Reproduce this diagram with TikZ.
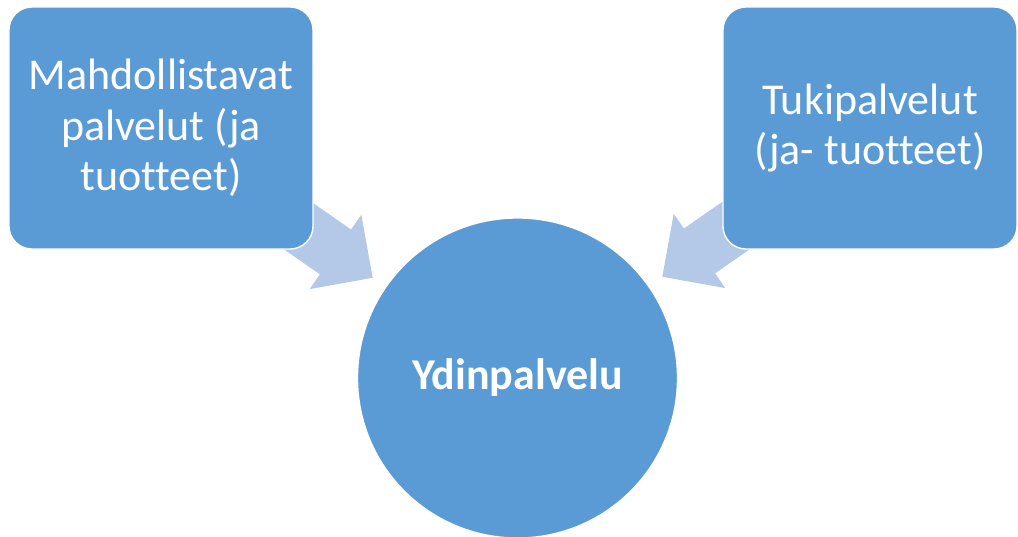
\documentclass[tikz,border=0pt]{standalone}
\usepackage{fontspec}
\setmainfont{Carlito}[Ligatures=NoCommon]
\usetikzlibrary{shapes.arrows}
\definecolor{boxblue}{RGB}{91,155,213}
\definecolor{arrowblue}{RGB}{180,200,231}
\tikzset{%
    service box/.style={
      rectangle,
      rounded corners=0.575cm,
      fill=boxblue,
      draw=white,
      line width=1pt,
      text=white,
      inner sep=0pt,
      align=center,
      font=\fontsize{31.3}{36}\selectfont
    },
    core node/.style={
      circle,
      fill=boxblue,
      draw=white,
      line width=1pt,
      text=white,
      minimum size=8cm,
      font=\fontsize{31.3}{36}\selectfont\bfseries
    },
    fat arrow/.style={
      single arrow,
      fill=arrowblue,
      draw=none,
      inner xsep=0pt,
      inner ysep=0.675cm,
      minimum width=2.25cm,
      minimum height=3.15cm,
      single arrow head extend=0.45cm,
      anchor=tip
    }
  }

\begin{document}
\begin{tikzpicture}[x=0.025cm, y=0.025cm]
      \useasboundingbox (0,0) rectangle (1018,-537);

      % arrows first, the boxes hide their tails
      \node [fat arrow, rotate=-34.8] (arrowL) at (373,-278) {};
      \node [fat arrow, rotate=-145.2] (arrowR) at (662,-277) {};

      \node [service box, minimum width=7.6cm, minimum height=6.05cm] (enabling) at (161,-128)
        {Mahdollistavat\\palvelut (ja\\tuotteet)};
      \node [service box, minimum width=7.35cm, minimum height=6.05cm] (support) at (870,-128)
        {Tukipalvelut\\(ja- tuotteet)};

      \node [core node] (core) at (517.5,-378) {Ydinpalvelu};
\end{tikzpicture}
\end{document}
